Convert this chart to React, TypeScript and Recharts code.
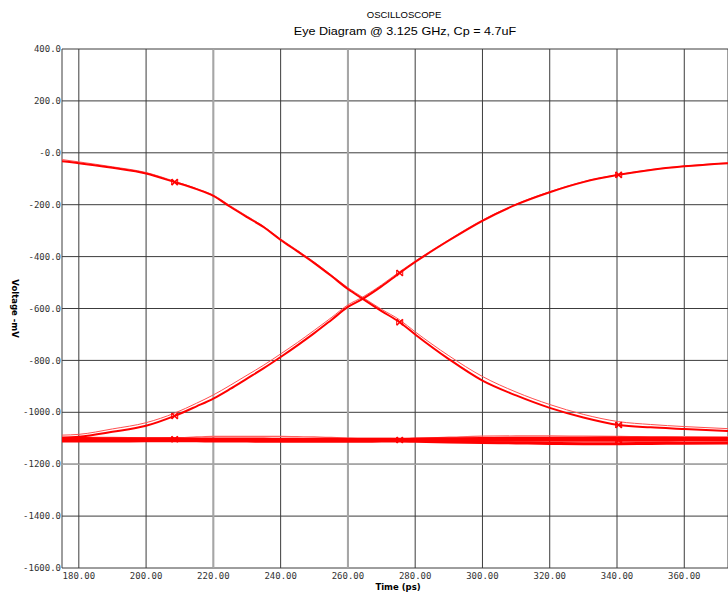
import { CartesianGrid, Line, LineChart, ReferenceLine, XAxis, YAxis } from 'recharts';

const times = [175, 180, 190, 200, 208.5, 215, 220, 225, 230, 235, 240, 245, 250, 255, 260, 264.4, 270, 275.4, 280, 290, 300, 310, 320, 330, 340.5, 350, 360, 373];

const fallThick = [-33, -40, -58, -80, -113, -140, -166, -208, -248, -287, -336, -380, -425, -474, -525, -563, -610, -653, -700, -795, -878, -935, -983, -1020, -1049, -1058, -1064, -1072];
const fallThin = [-26, -35, -54, -76, -110, -138, -163, -204, -244, -284, -332, -376, -421, -470, -520, -557, -603, -644, -690, -782, -862, -922, -970, -1008, -1036, -1047, -1055, -1063];
const riseThick = [-1098, -1094, -1075, -1052, -1014, -977, -947, -910, -870, -830, -787, -742, -695, -645, -594, -563, -515, -463, -421, -338, -262, -200, -152, -113, -85, -66, -52, -40];
const riseThin = [-1088, -1085, -1064, -1040, -1003, -965, -933, -896, -857, -818, -775, -731, -684, -636, -586, -556, -509, -458, -417, -335, -259, -198, -150, -111, -84, -65, -51, -39];
const flatA = [-1104, -1104, -1105, -1105, -1104, -1105, -1105, -1106, -1106, -1106, -1106, -1106, -1107, -1107, -1107, -1107, -1107, -1107, -1107, -1107, -1108, -1108, -1108, -1108, -1108, -1108, -1107, -1107];
const flatB = [-1111, -1111, -1111, -1110, -1110, -1110, -1111, -1111, -1111, -1112, -1112, -1112, -1112, -1112, -1112, -1112, -1111, -1111, -1112, -1114, -1116, -1118, -1120, -1121, -1121, -1120, -1119, -1118];
const flatC = [-1096, -1097, -1097, -1098, -1098, -1095, -1093, -1093, -1093, -1093, -1093, -1094, -1095, -1097, -1099, -1100, -1100, -1101, -1100, -1096, -1092, -1091, -1091, -1092, -1093, -1094, -1094, -1095];
const flatD = [-1100, -1100, -1101, -1101, -1101, -1102, -1102, -1102, -1102, -1102, -1103, -1103, -1103, -1103, -1103, -1103, -1103, -1103, -1102, -1101, -1100, -1099, -1099, -1099, -1098, -1099, -1100, -1100];

const markTimes = [208.5, 275.4, 340.5];

const xTicks = [180, 200, 220, 240, 260, 280, 300, 320, 340, 360];
const xTickLabels = ['180.00', '200.00', '220.00', '240.00', '260.00', '280.00', '300.00', '320.00', '340.00', '360.00'];
const yTicks = [400, 200, 0, -200, -400, -600, -800, -1000, -1200, -1400, -1600];
const yTickLabels = ['400.0', '200.0', '-0.0', '-200.0', '-400.0', '-600.0', '-800.0', '-1000.0', '-1200.0', '-1400.0', '-1600.0'];

const data = times.map((t, i) => ({
  t,
  fallThick: fallThick[i],
  fallThin: fallThin[i],
  riseThick: riseThick[i],
  riseThin: riseThin[i],
  flatA: flatA[i],
  flatB: flatB[i],
  flatC: flatC[i],
  flatD: flatD[i],
}));

const RED = '#ff0000';
const mono = '"DejaVu Sans Mono", monospace';

function Mark(props: any) {
  const { cx, cy, payload, index } = props;
  if (!markTimes.includes(payload.t) || cx == null || cy == null) return <g key={index} />;
  return (
    <g key={index}>
      <line x1={cx - 3} y1={cy - 3} x2={cx + 3} y2={cy + 3} stroke={RED} strokeWidth={1.5} />
      <line x1={cx - 3} y1={cy + 3} x2={cx + 3} y2={cy - 3} stroke={RED} strokeWidth={1.5} />
      <line x1={cx - 3} y1={cy - 3} x2={cx - 3} y2={cy + 3} stroke={RED} strokeWidth={1} />
      <line x1={cx + 3} y1={cy - 3} x2={cx + 3} y2={cy + 3} stroke={RED} strokeWidth={1} />
    </g>
  );
}

export default function App() {
  return (
    <div style={{ position: 'fixed', left: 0, top: 0, width: 728, height: 592, background: '#fff', overflow: 'hidden' }}>
      <div style={{ position: 'absolute', left: 404, top: 10, transform: 'translateX(-50%)', fontFamily: '"Liberation Sans", Arial, sans-serif', fontSize: 9.5, lineHeight: '9.5px', color: '#000', whiteSpace: 'nowrap' }}>
        OSCILLOSCOPE
      </div>
      <div style={{ position: 'absolute', left: 405, top: 26, transform: 'translateX(-50%) scaleX(1.2)', fontFamily: '"Liberation Sans", Arial, sans-serif', fontSize: 10.5, lineHeight: '10.5px', color: '#000', whiteSpace: 'nowrap' }}>
        Eye Diagram @ 3.125 GHz, Cp = 4.7uF
      </div>
      <LineChart width={728} height={592} data={data} margin={{ top: 49, right: 0, bottom: 0, left: 0 }}>
        <CartesianGrid stroke="#3c3c3c" strokeWidth={1} />
        <ReferenceLine x={220} stroke="#a6a6a6" strokeWidth={2} />
        <ReferenceLine x={260} stroke="#a6a6a6" strokeWidth={2} />
        <ReferenceLine y={-1200} stroke="#a6a6a6" strokeWidth={1.5} />
        <XAxis
          type="number"
          dataKey="t"
          domain={[175, 373]}
          allowDataOverflow
          ticks={xTicks}
          interval={0}
          height={24}
          tickLine={false}
          axisLine={false}
          tickSize={0}
          tickMargin={5}
          tickFormatter={(v: number) => xTickLabels[xTicks.indexOf(v)] ?? ''}
          tick={{ fontFamily: mono, fontSize: 9, fill: '#333' }}
          label={(p: any) => {
            const vb = p.viewBox;
            return (
              <text x={vb.x + vb.width / 2 + 3} y={590} textAnchor="middle" fontFamily='"DejaVu Sans", sans-serif' fontWeight="bold" fontSize={8.5} fill="#000">
                Time  (ps)
              </text>
            );
          }}
        />
        <YAxis
          type="number"
          domain={[-1600, 400]}
          allowDataOverflow
          ticks={yTicks}
          interval={0}
          width={62}
          tickLine={false}
          axisLine={false}
          tickSize={0}
          tickMargin={1}
          tickFormatter={(v: number) => yTickLabels[yTicks.indexOf(v)] ?? ''}
          tick={{ fontFamily: mono, fontSize: 9, fill: '#333' }}
          label={(p: any) => {
            const vb = p.viewBox;
            const cx = 15;
            const cy = vb.y + vb.height / 2;
            return (
              <text x={cx} y={cy} transform={`rotate(90, ${cx}, ${cy})`} textAnchor="middle" dominantBaseline="central" fontFamily='"DejaVu Sans", sans-serif' fontWeight="bold" fontSize={8.5} fill="#000">
                Voltage -mV
              </text>
            );
          }}
        />
        <Line type="monotone" dataKey="flatC" stroke="#ff6060" strokeWidth={1.2} dot={false} isAnimationActive={false} />
        <Line type="monotone" dataKey="flatD" stroke={RED} strokeWidth={2.5} dot={false} isAnimationActive={false} />
        <Line type="monotone" dataKey="flatB" stroke={RED} strokeWidth={3} dot={false} isAnimationActive={false} />
        <Line type="monotone" dataKey="flatA" stroke={RED} strokeWidth={3} dot={Mark} isAnimationActive={false} />
        <Line type="monotone" dataKey="fallThin" stroke="#ff5050" strokeWidth={1} dot={false} isAnimationActive={false} />
        <Line type="monotone" dataKey="riseThin" stroke="#ff5050" strokeWidth={1} dot={false} isAnimationActive={false} />
        <Line type="monotone" dataKey="fallThick" stroke={RED} strokeWidth={2} dot={Mark} isAnimationActive={false} />
        <Line type="monotone" dataKey="riseThick" stroke={RED} strokeWidth={2} dot={Mark} isAnimationActive={false} />
      </LineChart>
    </div>
  );
}
